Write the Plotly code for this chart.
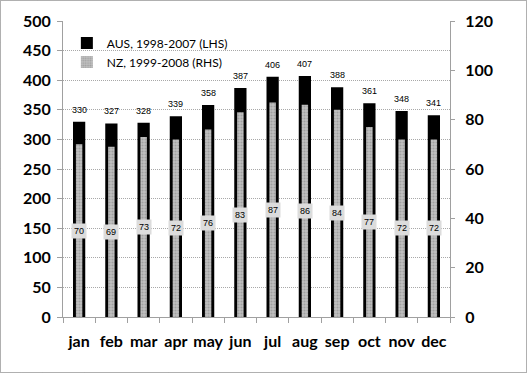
import plotly.graph_objects as go

months = ["jan", "feb", "mar", "apr", "may", "jun", "jul", "aug", "sep", "oct", "nov", "dec"]
aus = [330, 327, 328, 339, 358, 387, 406, 407, 388, 361, 348, 341]
nz = [70, 69, 73, 72, 76, 83, 87, 86, 84, 77, 72, 72]

W, H = 528, 374
ml, mr, mt, mb = 63, 78, 21, 57
pw, ph = W - ml - mr, H - mt - mb

fig = go.Figure()
fig.add_trace(go.Bar(
    x=months, y=aus, name="AUS, 1998-2007 (LHS)", yaxis="y",
    marker=dict(color="black", line=dict(width=0)), width=0.38,
))
fig.add_trace(go.Bar(
    x=months, y=nz, name="NZ, 1999-2008 (RHS)", yaxis="y2",
    marker=dict(color="#b0b0b0", line=dict(width=0),
                pattern=dict(shape=".", fgcolor="#808080", bgcolor="#c0c0c0", size=3, solidity=0.4)),
    width=0.2,
))

for m, v in zip(months, aus):
    fig.add_annotation(x=m, y=v, xref="x", yref="y", text=str(v), showarrow=False,
                       yanchor="bottom", yshift=5,
                       font=dict(size=9, color="black", family="Liberation Sans"))

for m, v in zip(months, nz):
    fig.add_annotation(x=m, y=v / 2, xref="x", yref="y2", text=str(v), showarrow=False,
                       font=dict(size=9, color="black", family="Liberation Sans"),
                       bgcolor="#dcdcdc", borderpad=2)

bold = dict(family="Lato", size=16, color="black", weight="bold")
fig.update_layout(
    width=W, height=H, margin=dict(l=ml, r=mr, t=mt, b=mb, autoexpand=False),
    paper_bgcolor="white", plot_bgcolor="white",
    barmode="overlay",
    showlegend=True,
    legend=dict(x=0.01, y=0.975, xanchor="left", yanchor="top", bgcolor="rgba(0,0,0,0)",
                font=dict(family="Lato", size=12, color="black"), tracegroupgap=4),
    xaxis=dict(tickfont=bold, tickangle=0, ticklabelstandoff=10,
               showline=True, linecolor="#a0a0a0", ticks="outside", tickson="boundaries",
               ticklen=5, tickcolor="#a0a0a0", showgrid=False),
    yaxis=dict(range=[0, 500], dtick=50, tickfont=bold, ticklabelstandoff=3,
               showline=True, linecolor="#a0a0a0", ticks="outside", ticklen=5, tickcolor="#a0a0a0",
               showgrid=True, gridcolor="#a8a8a8", griddash="1px,1px", gridwidth=1, zeroline=False),
    yaxis2=dict(range=[0, 120], dtick=20, overlaying="y", side="right", tickfont=bold,
                ticklabelstandoff=7,
                showline=True, linecolor="#a0a0a0", ticks="outside", ticklen=4, tickcolor="#a0a0a0",
                showgrid=False, zeroline=False),
)

fig.add_shape(type="rect", xref="paper", yref="paper",
              x0=-(ml - 0.5) / pw, x1=1 + (mr - 1.5) / pw, y0=-(mb - 1.5) / ph, y1=1 + (mt - 0.5) / ph,
              line=dict(color="#606060", width=1, dash="1px,1px"), layer="below")

fig.write_html("out.html", config={"displayModeBar": False},
               post_script="document.body.style.margin='0';")
